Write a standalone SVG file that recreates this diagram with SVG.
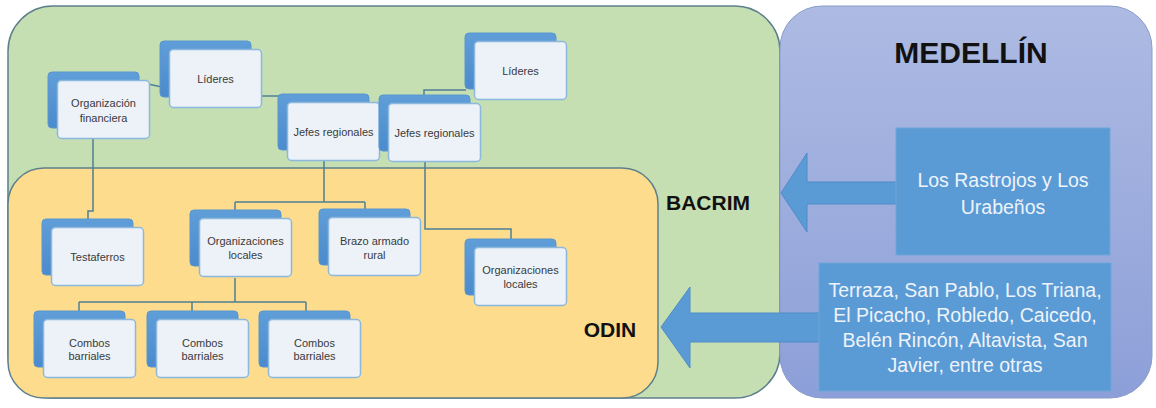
<svg xmlns="http://www.w3.org/2000/svg" width="1156" height="408" viewBox="0 0 1156 408">
<defs>
<linearGradient id="gBlue" x1="0" y1="0" x2="0" y2="1"><stop offset="0" stop-color="#adbbe3"/><stop offset="1" stop-color="#8d9fd8"/></linearGradient>
<linearGradient id="gBack" x1="0" y1="0" x2="0" y2="1"><stop offset="0" stop-color="#5f9ed8"/><stop offset="1" stop-color="#4c8bcc"/></linearGradient>
</defs>
<style>
.back{fill:url(#gBack);stroke:#5a96cf;stroke-width:1}
.front{fill:#edf2f9;stroke:#8cb8de;stroke-width:1.5}
.nt{font-family:"Liberation Sans",Arial,sans-serif;font-size:11px;fill:#3a3a3a;text-anchor:middle}
.conn{fill:none;stroke:#4f7f95;stroke-width:1.5}
.lbl{font-family:"Liberation Sans",Arial,sans-serif;font-weight:bold;fill:#111}
.bt{font-family:"Liberation Sans",Arial,sans-serif;fill:#eef3fb;text-anchor:middle}
.arrow{fill:#5b9bd5;stroke:#4f8cc8;stroke-width:1}
</style>
<rect width="1156" height="408" fill="#ffffff"/>
<g id="panel-bacrim"><rect x="8" y="6" width="772" height="392" rx="45" fill="#c5dfb3" stroke="#5d7f8c" stroke-width="1.5"/></g>
<g id="panel-medellin"><rect x="780" y="6" width="372" height="392" rx="42" fill="url(#gBlue)" stroke="#8a9cc9" stroke-width="1"/></g>
<g id="panel-odin"><rect x="8" y="168" width="650" height="230" rx="36" fill="#fddd8d" stroke="#5d7f8c" stroke-width="1.5"/></g>

<g id="connectors">
<path class="conn" d="M148 84 L162 87"/>
<path class="conn" d="M262 96 H280"/>
<path class="conn" d="M466 90 H424 V96"/>
<path class="conn" d="M324 161 V202 M235 202 H365 M235 202 V211 M365 202 V210"/>
<path class="conn" d="M93 139 V211 H88 V220"/>
<path class="conn" d="M425 162 V229 H511 V240"/>
<path class="conn" d="M235 278 V302 M79 302 H306 M79 302 V312 M192 302 V312 M306 302 V312"/>
</g>

<g id="n-lideres1" transform="translate(160,41)"><rect class="back" width="91" height="56" rx="4"/><rect class="front" x="9.5" y="8.5" width="92" height="58" rx="4"/><text class="nt" x="55.5" y="41.5">Líderes</text></g>
<g id="n-orgfin" transform="translate(48,72)"><rect class="back" width="91" height="56" rx="4"/><rect class="front" x="9.5" y="8.5" width="92" height="58" rx="4"/><text class="nt" x="55.5" y="34.5">Organización</text><text class="nt" x="55.5" y="49.5">financiera</text></g>
<g id="n-jefes1" transform="translate(278,94)"><rect class="back" width="91" height="56" rx="4"/><rect class="front" x="9.5" y="8.5" width="92" height="58" rx="4"/><text class="nt" x="55.5" y="41.5">Jefes regionales</text></g>
<g id="n-jefes2" transform="translate(379,95)"><rect class="back" width="91" height="56" rx="4"/><rect class="front" x="9.5" y="8.5" width="92" height="58" rx="4"/><text class="nt" x="55.5" y="41.5">Jefes regionales</text></g>
<g id="n-lideres2" transform="translate(465,33)"><rect class="back" width="91" height="56" rx="4"/><rect class="front" x="9.5" y="8.5" width="92" height="58" rx="4"/><text class="nt" x="55.5" y="41.5">Líderes</text></g>
<g id="n-testaferros" transform="translate(42,219)"><rect class="back" width="91" height="56" rx="4"/><rect class="front" x="9.5" y="8.5" width="92" height="58" rx="4"/><text class="nt" x="55.5" y="41.5">Testaferros</text></g>
<g id="n-orgloc1" transform="translate(190,210)"><rect class="back" width="91" height="56" rx="4"/><rect class="front" x="9.5" y="8.5" width="92" height="58" rx="4"/><text class="nt" x="55.5" y="35">Organizaciones</text><text class="nt" x="55.5" y="49">locales</text></g>
<g id="n-brazo" transform="translate(319,209)"><rect class="back" width="91" height="56" rx="4"/><rect class="front" x="9.5" y="8.5" width="92" height="58" rx="4"/><text class="nt" x="55.5" y="36">Brazo armado</text><text class="nt" x="55.5" y="50">rural</text></g>
<g id="n-orgloc2" transform="translate(465,239)"><rect class="back" width="91" height="56" rx="4"/><rect class="front" x="9.5" y="8.5" width="92" height="58" rx="4"/><text class="nt" x="55.5" y="35">Organizaciones</text><text class="nt" x="55.5" y="49">locales</text></g>
<g id="n-combos1" transform="translate(34,311)"><rect class="back" width="91" height="56" rx="4"/><rect class="front" x="9.5" y="8.5" width="92" height="58" rx="4"/><text class="nt" x="55.5" y="36">Combos</text><text class="nt" x="55.5" y="49">barriales</text></g>
<g id="n-combos2" transform="translate(147,311)"><rect class="back" width="91" height="56" rx="4"/><rect class="front" x="9.5" y="8.5" width="92" height="58" rx="4"/><text class="nt" x="55.5" y="36">Combos</text><text class="nt" x="55.5" y="49">barriales</text></g>
<g id="n-combos3" transform="translate(259,311)"><rect class="back" width="91" height="56" rx="4"/><rect class="front" x="9.5" y="8.5" width="92" height="58" rx="4"/><text class="nt" x="55.5" y="36">Combos</text><text class="nt" x="55.5" y="49">barriales</text></g>

<g id="labels">
<text class="lbl" x="971" y="63" font-size="30" text-anchor="middle">MEDELLÍN</text>
<text class="lbl" x="708" y="210" font-size="21" text-anchor="middle">BACRIM</text>
<text class="lbl" x="610" y="337" font-size="21" text-anchor="middle">ODIN</text>
</g>

<g id="arrows">
<path class="arrow" d="M781 193 L807 153 L807 182 L897 182 L897 204 L807 204 L807 232 Z"/>
<path class="arrow" d="M661 327 L690 287 L690 313 L820 313 L820 342 L690 342 L690 368 Z"/>
</g>

<g id="box-rastrojos">
<rect x="896" y="128" width="214" height="127" fill="#5b9bd5" stroke="#6ea6d8" stroke-width="1"/>
<text class="bt" font-size="19.5" x="1003" y="187">Los Rastrojos y Los</text>
<text class="bt" font-size="19.5" x="1003" y="214">Urabeños</text>
</g>
<g id="box-combos">
<rect x="819" y="263" width="292" height="128" fill="#5b9bd5" stroke="#6ea6d8" stroke-width="1"/>
<text class="bt" font-size="19.5" x="965" y="297">Terraza, San Pablo, Los Triana,</text>
<text class="bt" font-size="19.5" x="965" y="322">El Picacho, Robledo, Caicedo,</text>
<text class="bt" font-size="19.5" x="965" y="347">Belén Rincón, Altavista, San</text>
<text class="bt" font-size="19.5" x="965" y="372">Javier, entre otras</text>
</g>
</svg>
